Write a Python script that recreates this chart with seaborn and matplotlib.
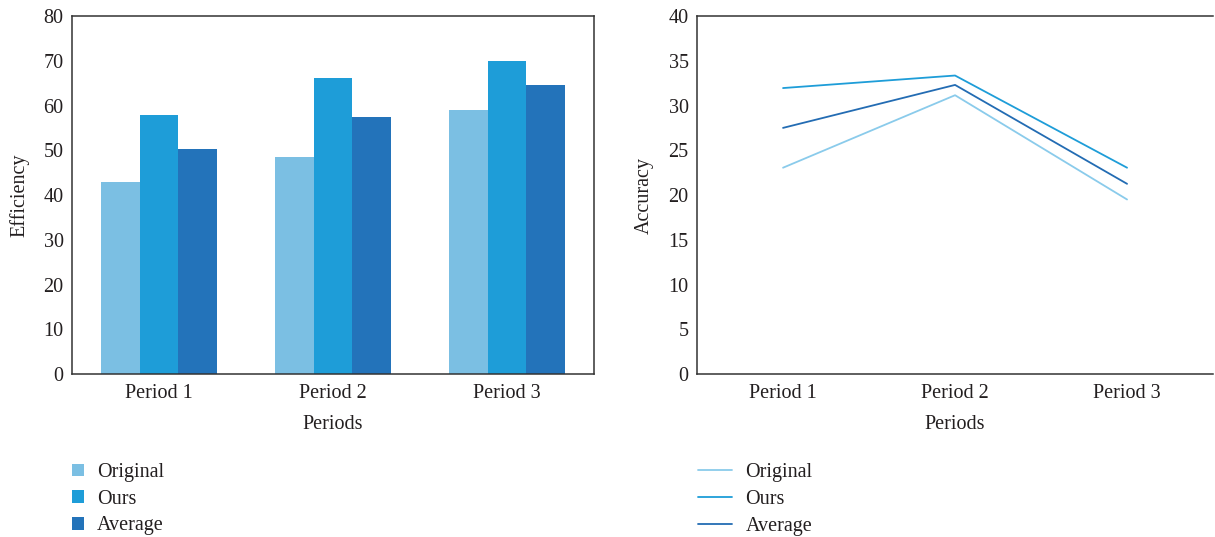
import matplotlib
matplotlib.use("Agg")
import matplotlib.pyplot as plt
from matplotlib.lines import Line2D
from matplotlib.patches import Patch
import seaborn as sns
import pandas as pd

periods = ["Period 1", "Period 2", "Period 3"]
series = ["Original", "Ours", "Average"]
efficiency_original = [43.0, 48.4, 58.9]
efficiency_ours = [57.8, 66.1, 69.9]
efficiency_average = [50.2, 57.4, 64.5]
accuracy_original = [23.05, 31.15, 19.5]
accuracy_ours = [31.95, 33.35, 23.05]
accuracy_average = [27.5, 32.3, 21.25]

bar_colors = ["#7BBFE3", "#1E9DD8", "#2373BA"]
line_colors = ["#8ACBEB", "#1E9DD8", "#236CB3"]

sns.set_theme(style="white")
plt.rcParams["font.family"] = ["Liberation Serif", "DejaVu Serif"]
plt.rcParams["text.color"] = "#231F20"
plt.rcParams["axes.labelcolor"] = "#231F20"
plt.rcParams["xtick.color"] = "#231F20"
plt.rcParams["ytick.color"] = "#231F20"

eff = pd.DataFrame({
    "Periods": periods * 3,
    "Series": [s for s in series for _ in periods],
    "Efficiency": efficiency_original + efficiency_ours + efficiency_average,
})
acc = pd.DataFrame({
    "Periods": periods * 3,
    "Series": [s for s in series for _ in periods],
    "Accuracy": accuracy_original + accuracy_ours + accuracy_average,
})

fig = plt.figure(figsize=(12.15, 5.37), dpi=100)
ax1 = fig.add_axes([0.0593, 0.3035, 0.4296, 0.6667])
ax2 = fig.add_axes([0.5737, 0.3035, 0.4247, 0.6667])

fs = 14.5

sns.barplot(data=eff, x="Periods", y="Efficiency", hue="Series",
            palette=bar_colors, width=0.67, gap=0, saturation=1,
            linewidth=0, ax=ax1, legend=False)
ax1.set_ylim(0, 80)
ax1.set_yticks(range(0, 81, 10))
ax1.set_xlim(-0.5, 2.5)

sns.lineplot(data=acc, x="Periods", y="Accuracy", hue="Series",
             palette=line_colors, linewidth=1.3, ax=ax2, legend=False,
             sort=False)
ax2.set_ylim(0, 40)
ax2.set_yticks(range(0, 41, 5))
ax2.set_xlim(-0.5, 2.5)

for ax in (ax1, ax2):
    for sp in ax.spines.values():
        sp.set_color("#333333")
        sp.set_linewidth(1.1)
    ax.tick_params(axis="both", length=0, labelsize=fs, pad=6)
    ax.tick_params(axis="x", pad=7)
    ax.set_xlabel("Periods", fontsize=fs, labelpad=9)
    ax.yaxis.label.set_size(fs)
ax2.spines["right"].set_visible(False)
ax1.set_ylabel("Efficiency", labelpad=10)
ax2.set_ylabel("Accuracy", labelpad=11)

bar_handles = [Patch(facecolor=c, edgecolor="none") for c in bar_colors]
ax1.legend(bar_handles, series, loc="upper left", bbox_to_anchor=(-0.0155, -0.2265),
           frameon=False, fontsize=fs, handlelength=0.6, handleheight=0.6,
           handletextpad=0.65, labelspacing=0.38, borderaxespad=0)

line_handles = [Line2D([0], [0], color=c, linewidth=1.3) for c in line_colors]
ax2.legend(line_handles, series, loc="upper left", bbox_to_anchor=(-0.0136, -0.2265),
           frameon=False, fontsize=fs, handlelength=1.7,
           handletextpad=0.65, labelspacing=0.38, borderaxespad=0)

fig.savefig("out.png", dpi=100)
